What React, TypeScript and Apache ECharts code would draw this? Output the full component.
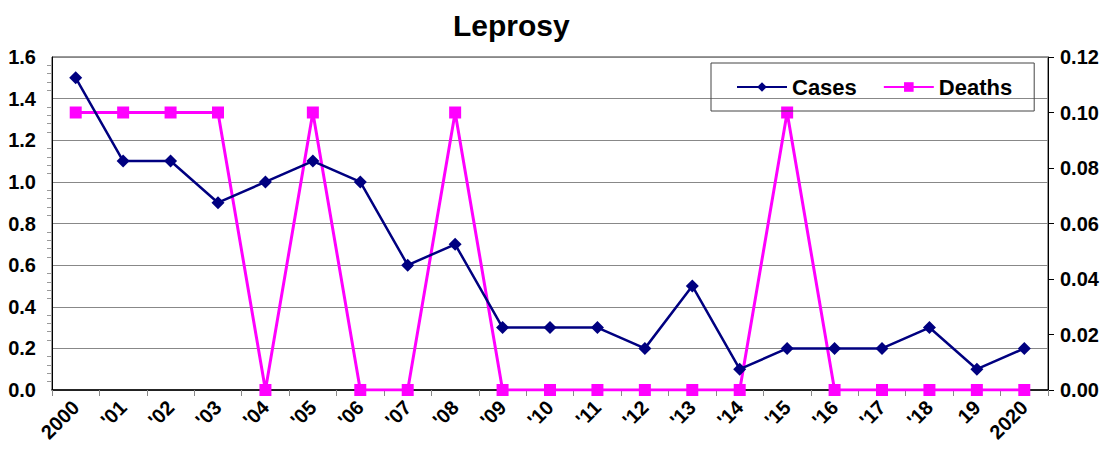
import React, { useEffect, useRef } from "react";
import * as echarts from "echarts";

const years = ["2000", "'01", "'02", "'03", "'04", "'05", "'06", "'07", "'08", "'09", "'10", "'11", "'12", "'13", "'14", "'15", "'16", "'17", "'18", "19", "2020"];
const cases = [1.5, 1.1, 1.1, 0.9, 1.0, 1.1, 1.0, 0.6, 0.7, 0.3, 0.3, 0.3, 0.2, 0.5, 0.1, 0.2, 0.2, 0.2, 0.3, 0.1, 0.2];
const deaths = [0.1, 0.1, 0.1, 0.1, 0, 0.1, 0, 0, 0.1, 0, 0, 0, 0, 0, 0, 0.1, 0, 0, 0, 0, 0];

const FONT = "Liberation Sans, Arial, sans-serif";

export default function App() {
  const ref = useRef<HTMLDivElement>(null);
  useEffect(() => {
    document.body.style.margin = "0";
    const chart = echarts.init(ref.current!, null, { renderer: "svg" });
    chart.setOption({
      animation: false,
      backgroundColor: "#ffffff",
      title: {
        text: "Leprosy",
        left: 448,
        top: 5,
        textStyle: { fontFamily: FONT, fontSize: 30, fontWeight: "bold", color: "#000" },
      },
      legend: {
        left: 711,
        top: 63,
        padding: [13, 22, 13, 25],
        itemGap: 26,
        itemWidth: 50,
        itemHeight: 12,
        borderColor: "#444",
        borderWidth: 1,
        borderRadius: 0,
        textStyle: { fontFamily: FONT, fontSize: 22, fontWeight: "bold", color: "#000" },
        data: ["Cases", "Deaths"],
      },
      grid: { left: 52, right: 63, top: 57, bottom: 60, containLabel: false, show: true, borderColor: "#333", borderWidth: 1 },
      xAxis: {
        type: "category",
        data: years,
        boundaryGap: true,
        axisLine: { lineStyle: { color: "#000", width: 1.5 } },
        axisTick: { show: true, interval: 0, length: 6, lineStyle: { color: "#888" } },
        axisLabel: { interval: 0, rotate: 45, fontFamily: FONT, fontSize: 20, fontWeight: "bold", color: "#000", margin: 14 },
      },
      yAxis: [
        {
          type: "value",
          min: 0,
          max: 1.6,
          interval: 0.2,
          axisLine: { show: true, lineStyle: { color: "#000" } },
          axisTick: { show: false },
          minorTick: { show: true, splitNumber: 5, length: 5, lineStyle: { color: "#999" } },
          splitLine: { show: true, lineStyle: { color: "#888", width: 1 } },
          axisLabel: { formatter: (v: number) => v.toFixed(1), fontFamily: FONT, fontSize: 20, fontWeight: "bold", color: "#000", margin: 16 },
        },
        {
          type: "value",
          min: 0,
          max: 0.12,
          interval: 0.02,
          position: "right",
          axisLine: { show: true, lineStyle: { color: "#000" } },
          axisTick: { show: true, length: 6, lineStyle: { color: "#000" } },
          splitLine: { show: false },
          axisLabel: { formatter: (v: number) => v.toFixed(2), fontFamily: FONT, fontSize: 20, fontWeight: "bold", color: "#000", margin: 12 },
        },
      ],
      series: [
        {
          name: "Cases",
          type: "line",
          yAxisIndex: 0,
          data: cases,
          symbol: "diamond",
          symbolSize: 13,
          lineStyle: { color: "#000080", width: 2.5 },
          itemStyle: { color: "#000080" },
          z: 3,
        },
        {
          name: "Deaths",
          type: "line",
          yAxisIndex: 1,
          data: deaths,
          symbol: "rect",
          symbolSize: 12,
          lineStyle: { color: "#ff00ff", width: 3 },
          itemStyle: { color: "#ff00ff" },
          z: 2,
        },
      ],
    });
    return () => chart.dispose();
  }, []);
  return <div ref={ref} style={{ width: 1111, height: 450 }} />;
}
